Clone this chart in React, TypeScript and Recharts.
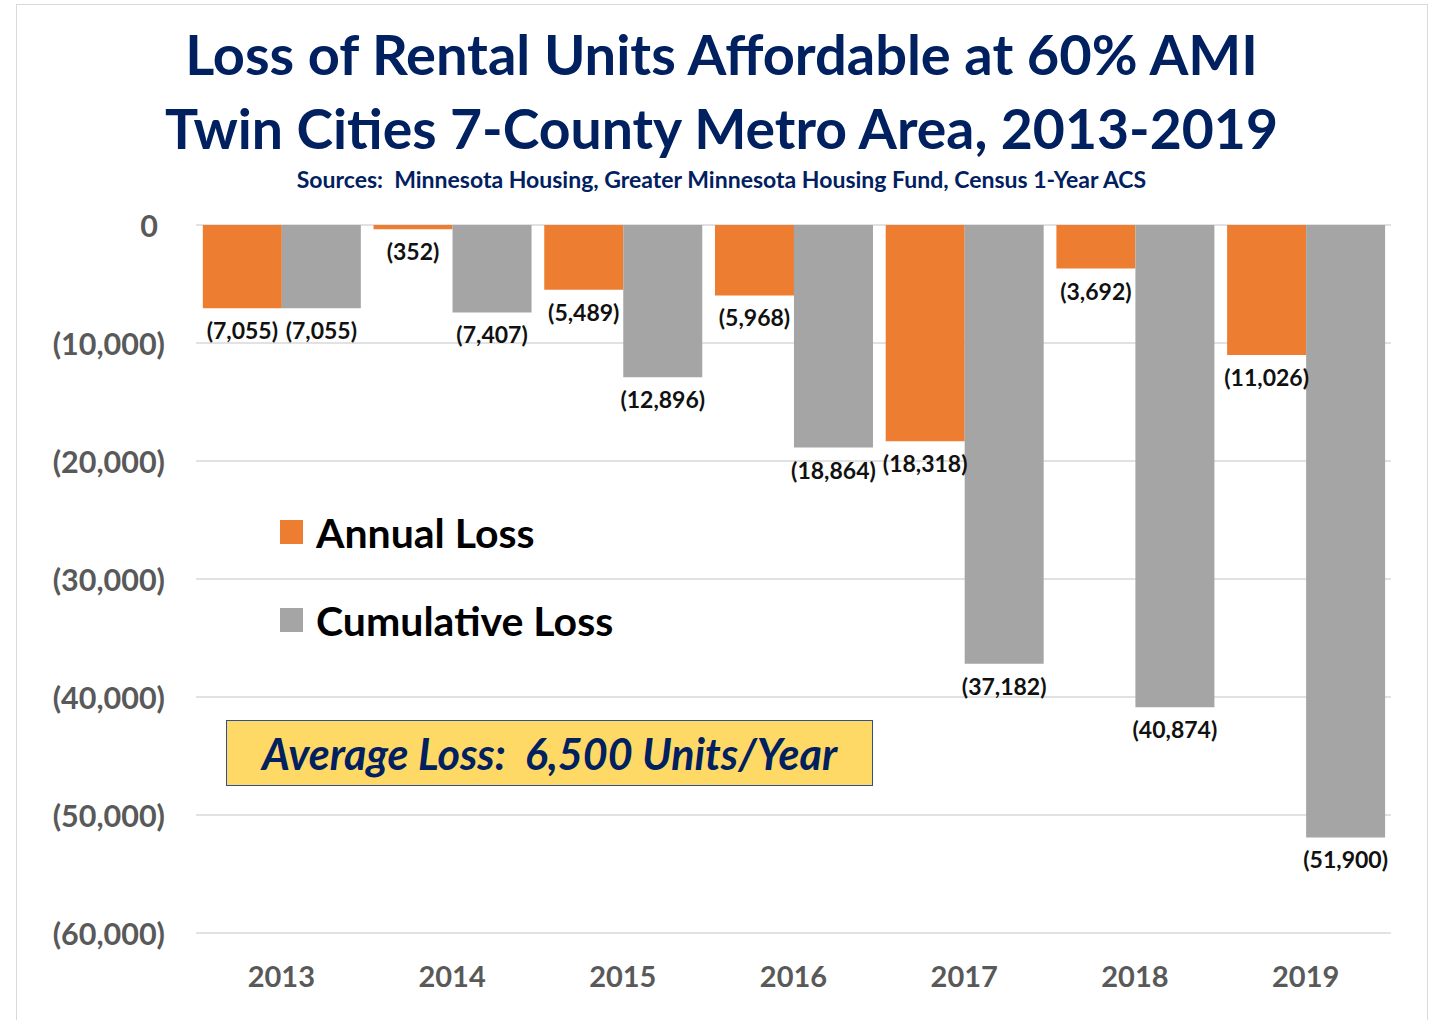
import React from "react"
import {
  Bar,
  BarChart,
  CartesianGrid,
  XAxis,
  YAxis,
} from "recharts"

const years = ["2013", "2014", "2015", "2016", "2017", "2018", "2019"]
const annualLoss = [-7055, -352, -5489, -5968, -18318, -3692, -11026]
const cumulativeLoss = [-7055, -7407, -12896, -18864, -37182, -40874, -51900]
const yTicks = [0, -10000, -20000, -30000, -40000, -50000, -60000]
const boundaryTicks = [0, 1, 2, 3, 4, 5, 6, 7]
const seriesNames = ["Annual Loss", "Cumulative Loss"]
const seriesColors = ["#ED7D31", "#A5A5A5"]

const data = years.map((year, i) => ({
  year,
  annual: annualLoss[i],
  cumulative: cumulativeLoss[i],
}))

const FONT = "Lato, 'Open Sans', sans-serif"
const NAVY = "#002060"
const AXIS_GREY = "#595959"

const fmt = (v: number) =>
  v < 0 ? `(${Math.abs(v).toLocaleString("en-US")})` : v.toLocaleString("en-US")

function YTick(props: any) {
  const { x, y, payload } = props
  const v = payload.value as number
  return (
    <text
      x={v === 0 ? x - 7 : x}
      y={y}
      textAnchor="end"
      dominantBaseline="central"
      fontFamily={FONT}
      fontWeight={700}
      fontSize={30.5}
      fill={AXIS_GREY}
    >
      {fmt(v)}
    </text>
  )
}

function XTick(props: any) {
  const { x, y, payload } = props
  return (
    <text
      x={x}
      y={y}
      textAnchor="middle"
      dominantBaseline="central"
      fontFamily={FONT}
      fontWeight={700}
      fontSize={29}
      fill={AXIS_GREY}
    >
      {payload.value}
    </text>
  )
}

function BarValue(props: any) {
  const { x, y, width, height, value } = props
  const bottom = Math.max(y, y + height)
  return (
    <text
      x={x + width / 2}
      y={bottom + 22}
      textAnchor="middle"
      dominantBaseline="central"
      fontFamily={FONT}
      fontWeight={700}
      fontSize={23}
      fill="#111"
    >
      {fmt(value)}
    </text>
  )
}

function LegendBox() {
  return (
    <div style={{ position: "absolute", left: 280, top: 488 }}>
      {seriesNames.map((name, i) => (
        <div key={name} style={{ display: "flex", alignItems: "center", height: 88 }}>
          <span
            style={{
              width: 23,
              height: 24,
              background: seriesColors[i],
              marginRight: 13,
              display: "inline-block",
            }}
          />
          <span style={{ fontFamily: FONT, fontWeight: 700, fontSize: 41, color: "#000" }}>
            {name}
          </span>
        </div>
      ))}
    </div>
  )
}

export default function App() {
  return (
    <div
      style={{
        position: "absolute",
        left: 0,
        top: 0,
        width: 1438,
        height: 1020,
        overflow: "hidden",
        background: "#fff",
      }}
    >
      <div
        style={{
          position: "absolute",
          left: 16,
          top: 4,
          width: 1410,
          height: 1040,
          border: "1px solid #d9d9d9",
        }}
      />
      <div
        style={{
          position: "absolute",
          left: 0,
          width: 1443,
          top: 17,
          textAlign: "center",
          fontFamily: FONT,
          fontWeight: 700,
          color: NAVY,
          lineHeight: "74px",
        }}
      >
        <div style={{ fontSize: 56 }}>Loss of Rental Units Affordable at 60% AMI</div>
        <div style={{ fontSize: 55.3 }}>Twin Cities 7-County Metro Area, 2013-2019</div>
      </div>
      <div
        style={{
          position: "absolute",
          left: 0,
          width: 1443,
          top: 165,
          textAlign: "center",
          fontFamily: FONT,
          fontWeight: 700,
          color: NAVY,
          fontSize: 23,
          lineHeight: "28px",
          whiteSpace: "pre",
        }}
      >
        {"Sources:  Minnesota Housing, Greater Minnesota Housing Fund, Census 1-Year ACS"}
      </div>

      <div style={{ position: "absolute", left: 0, top: 0 }}>
        <BarChart
          width={1438}
          height={1020}
          data={data}
          margin={{ top: 225, right: 47, bottom: 27, left: 16 }}
          barCategoryGap="4%"
          barGap={0}
        >
          <CartesianGrid
            vertical={false}
            stroke="#d9d9d9"
            strokeWidth={1.3}
            horizontalValues={yTicks}
          />
          <XAxis
            dataKey="year"
            xAxisId="cat"
            orientation="bottom"
            height={60}
            axisLine={false}
            tickLine={false}
            tickSize={0}
            tickMargin={42}
            tick={<XTick />}
            interval={0}
          />
          <XAxis
            xAxisId="edge"
            type="number"
            orientation="top"
            domain={[0, 7]}
            ticks={boundaryTicks}
            allowDataOverflow
            mirror
            height={0}
            tick={false}
            tickSize={9}
            axisLine={{ stroke: "#d9d9d9", strokeWidth: 1.3 }}
            tickLine={{ stroke: "#d9d9d9", strokeWidth: 1.3 }}
          />
          <YAxis
            type="number"
            domain={[-60000, 0]}
            ticks={yTicks}
            width={180}
            axisLine={false}
            tickLine={false}
            tickSize={0}
            tickMargin={31}
            tick={<YTick />}
            interval={0}
          />
          <Bar
            xAxisId="cat"
            dataKey="annual"
            name={seriesNames[0]}
            fill={seriesColors[0]}
            isAnimationActive={false}
            label={<BarValue />}
          />
          <Bar
            xAxisId="cat"
            dataKey="cumulative"
            name={seriesNames[1]}
            fill={seriesColors[1]}
            isAnimationActive={false}
            label={<BarValue />}
          />
        </BarChart>
      </div>

      <LegendBox />

      <div
        style={{
          position: "absolute",
          left: 226,
          top: 720,
          width: 645,
          height: 64,
          background: "#FFD966",
          border: "1.5px solid #2F4F8F",
          display: "flex",
          alignItems: "center",
          justifyContent: "center",
          fontFamily: FONT,
          fontWeight: 700,
          fontStyle: "italic",
          fontSize: 43,
          color: NAVY,
          whiteSpace: "pre",
        }}
      >
        {"Average Loss:  6,500 Units/Year"}
      </div>
    </div>
  )
}
